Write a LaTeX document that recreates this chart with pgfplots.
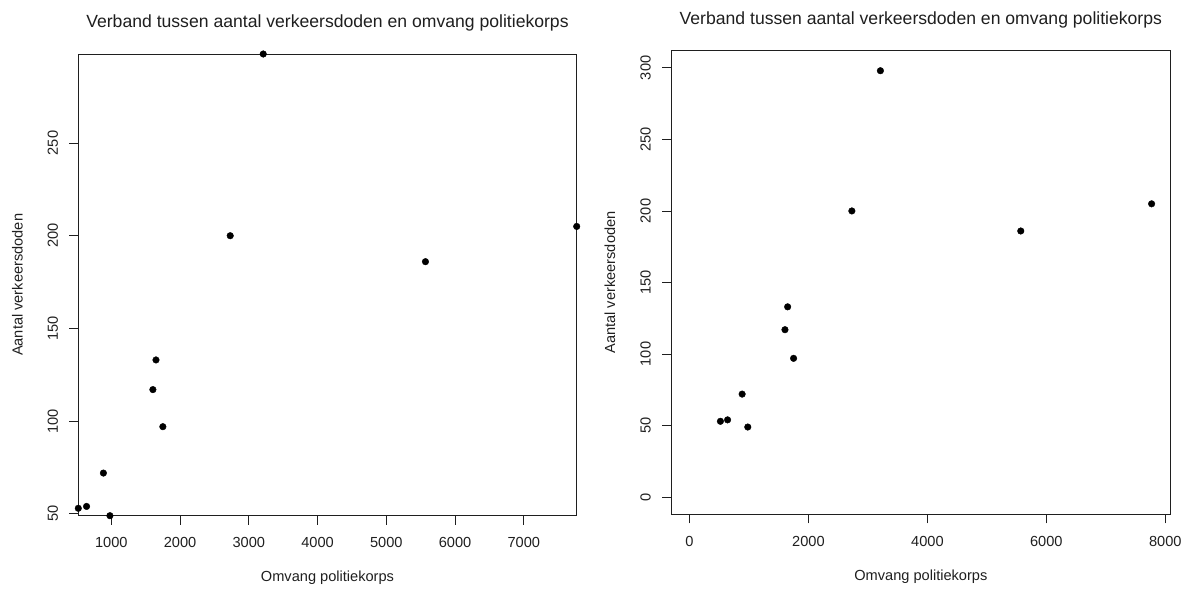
\documentclass[border=0pt]{standalone}
\usepackage{fontspec}
\setmainfont{Liberation Sans}
\usepackage{pgfplots}
\pgfplotsset{compat=1.18}

% korps size vs. traffic deaths
\pgfplotstableread{
x    y
520  53
640  54
885  72
980  49
1605 117
1650 133
1750 97
2730 200
3210 298
5570 186
7770 205
}\korps

\definecolor{ink}{gray}{0.12}

\pgfplotsset{
  rplot/.style={
    scale only axis,
    anchor=south west,
    axis line style={ink, line width=0.9pt},
    tick style={ink, line width=0.9pt},
    tick align=outside,
    major tick length=9pt,
    xtick pos=bottom, ytick pos=left,
    /pgf/number format/assume math mode=true,
    /pgf/number format/1000 sep={},
    tick label style={font=\fontsize{14.6}{16}\selectfont, text=ink},
    xticklabel style={anchor=center, yshift=-18pt},
    yticklabel style={anchor=center, rotate=90, yshift=16.5pt},
    label style={font=\fontsize{14.6}{16}\selectfont, text=ink},
    xlabel style={at={(axis description cs:0.5,0)}, anchor=center, yshift=-62.5pt},
    ylabel style={at={(axis description cs:0,0.5)}, anchor=center, rotate=0, yshift=61pt},
    title style={at={(axis description cs:0.5,1)}, anchor=center, yshift=25pt,
                 font=\fontsize{17.6}{20}\selectfont, text=ink},
    title={Verband tussen aantal verkeersdoden en omvang politiekorps},
    xlabel={Omvang politiekorps},
    ylabel={Aantal verkeersdoden},
  },
  dots/.style={only marks, mark=*, mark size=3.3pt, mark options={fill=black, draw=black}},
}

\begin{document}
\begin{tikzpicture}[x=1pt, y=1pt]
\path[use as bounding box] (0,0) rectangle (1189,590);

% left panel: limits at the data range
\begin{axis}[rplot,
  at={(78.3pt,74.3pt)}, width=498.4pt, height=461.7pt,
  xmin=520, xmax=7770, ymin=49, ymax=298,
  xtick={1000,2000,...,7000}, ytick={50,100,...,250},
]
\addplot[dots] table[x=x, y=y] {\korps};
\end{axis}

% right panel: axes from zero
\begin{axis}[rplot,
  at={(671pt,75.7pt)}, width=499.7pt, height=463.6pt,
  xmin=-311, xmax=8091, ymin=-12, ymax=312,
  xtick={0,2000,...,8000}, ytick={0,50,...,300},
]
\addplot[dots] table[x=x, y=y] {\korps};
\end{axis}
\end{tikzpicture}
\end{document}
